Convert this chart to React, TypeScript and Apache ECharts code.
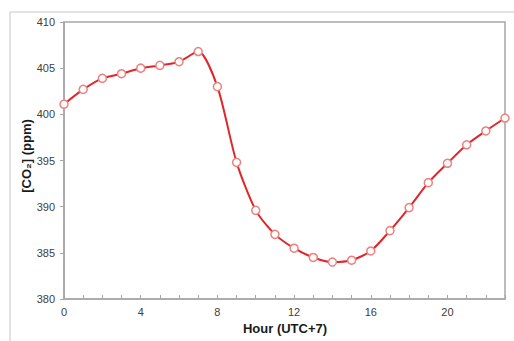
import React, { useEffect, useRef } from "react";
import * as echarts from "echarts";

const hours = [0,1,2,3,4,5,6,7,8,9,10,11,12,13,14,15,16,17,18,19,20,21,22,23];
const co2 = [401.1,402.7,403.9,404.4,405.0,405.3,405.7,406.8,403.0,394.8,389.6,387.0,385.5,384.5,384.0,384.2,385.2,387.4,389.9,392.6,394.7,396.7,398.2,399.6];
const yTitle = "[CO₂] (ppm)";
const xTitle = "Hour (UTC+7)";

export default function App() {
  const ref = useRef<HTMLDivElement>(null);
  useEffect(() => {
    if (!ref.current) return;
    const chart = echarts.init(ref.current, null, { renderer: "svg" });
    const font = "'Liberation Sans', Arial, sans-serif";
    chart.setOption({
      animation: false,
      backgroundColor: "#fff",
      grid: { left: 64, top: 22, right: 9, bottom: 42, show: true, borderColor: "#a6a6a6", borderWidth: 1.5 },
      xAxis: {
        type: "value", min: 0, max: 23, interval: 4,
        axisLine: { lineStyle: { color: "#a6a6a6", width: 1.5 } },
        axisTick: { show: true, inside: true, length: 4, lineStyle: { color: "#a6a6a6" } },
        minorTick: { show: true, splitNumber: 4, length: 4, lineStyle: { color: "#a6a6a6" } },
        axisLabel: { color: "#404040", fontSize: 11, fontFamily: font, margin: 7, showMaxLabel: false },
        splitLine: { show: false },
      },
      yAxis: {
        type: "value", min: 380, max: 410, interval: 5,
        axisLine: { show: true, lineStyle: { color: "#a6a6a6", width: 1.5 } },
        axisTick: { show: true, length: 4, lineStyle: { color: "#a6a6a6" } },
        axisLabel: { color: "#404040", fontSize: 11, fontFamily: font, margin: 9 },
        splitLine: { show: false },
      },
      graphic: [
        { type: "line", shape: { x1: 10, y1: 12, x2: 514, y2: 12 }, style: { stroke: "#d9d9d9", lineWidth: 1.5 } },
        { type: "line", shape: { x1: 10, y1: 12, x2: 10, y2: 341 }, style: { stroke: "#d9d9d9", lineWidth: 1.5 } },
        {
          type: "text", x: 26, y: 156, rotation: Math.PI / 2,
          style: { text: yTitle, textAlign: "center", textVerticalAlign: "middle", fontSize: 13, fontWeight: "bold", fontFamily: font, fill: "#1a1a1a" },
        },
        {
          type: "text", x: 285, y: 328,
          style: { text: xTitle, textAlign: "center", textVerticalAlign: "middle", fontSize: 13, fontWeight: "bold", fontFamily: font, fill: "#1a1a1a" },
        },
      ],
      series: [{
        type: "line",
        data: hours.map((h, i) => [h, co2[i]]),
        smooth: 0.25,
        symbol: "circle",
        symbolSize: 8,
        lineStyle: { color: "#e0262b", width: 2 },
        itemStyle: { color: "#ffffff", borderColor: "#ee8080", borderWidth: 1.5 },
      }],
    });
    return () => chart.dispose();
  }, []);
  return <div ref={ref} style={{ width: 514, height: 341, position: "absolute", left: 0, top: 0 }} />;
}
